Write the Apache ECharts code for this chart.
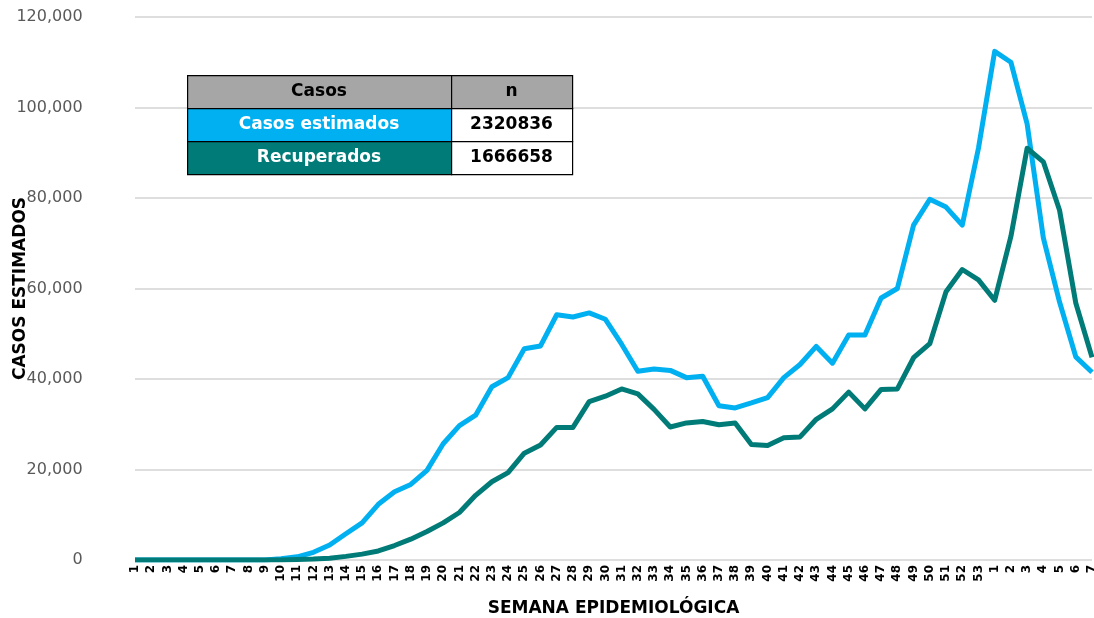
<!DOCTYPE html>
<html>
<head>
<meta charset="utf-8">
<script src="https://cdn.jsdelivr.net/npm/echarts@6/dist/echarts.min.js"></script>
<style>
  html, body { margin: 0; padding: 0; background: #ffffff; }
  #chart { width: 1094px; height: 618px; }
</style>
</head>
<body>
<div id="chart"></div>
<script>
// Epidemiological week labels (2020 weeks 1-53, then 2021 weeks 1-7)
const weeks = ['1','2','3','4','5','6','7','8','9','10','11','12','13','14','15','16','17','18','19','20',
  '21','22','23','24','25','26','27','28','29','30','31','32','33','34','35','36','37','38','39','40',
  '41','42','43','44','45','46','47','48','49','50','51','52','53','1','2','3','4','5','6','7'];

// Casos estimados (light blue)
const casosEstimados = [0,0,0,0,0,0,0,0,0,300,
  700,1700,3300,5800,8200,12300,15100,16700,19800,25700,
  29700,32000,38300,40300,46700,47300,54200,53700,54600,53200,
  47700,41700,42200,41900,40300,40600,34100,33600,34700,35900,
  40300,43200,47200,43500,49700,49700,57900,60000,74000,79700,
  78000,74000,91000,112400,110000,96400,71200,57000,44900,41500];

// Recuperados (teal)
const recuperados = [0,0,0,0,0,0,0,0,0,0,
  100,200,400,800,1300,2000,3200,4600,6300,8200,
  10500,14300,17300,19300,23600,25400,29300,29300,35000,36200,
  37800,36700,33300,29400,30300,30600,29900,30300,25500,25300,
  27000,27200,31100,33400,37100,33400,37700,37800,44700,47800,
  59300,64200,61900,57400,71500,91000,88000,77300,56800,44800];

// Summary table
const tableHeader = ['Casos', 'n'];
const tableRows = [['Casos estimados', '2320836'], ['Recuperados', '1666658']];

const colorBlue = '#00B0F0';
const colorTeal = '#007B77';
const fontFam = '"DejaVu Sans", sans-serif';

// Table geometry (annotation overlay)
const tX = 187, tY = 75, col1W = 264, col2W = 121, rowH = 33;
const rowFills = ['#A6A6A6', colorBlue, colorTeal];
const graphics = [];
const allRows = [tableHeader].concat(tableRows);
allRows.forEach((row, r) => {
  const y = tY + r * rowH;
  graphics.push({
    type: 'rect', left: tX, top: y, z: 10,
    shape: { width: col1W, height: rowH },
    style: { fill: rowFills[r], stroke: '#000', lineWidth: 1.2 }
  });
  graphics.push({
    type: 'rect', left: tX + col1W, top: y, z: 10,
    shape: { width: col2W, height: rowH },
    style: { fill: r === 0 ? '#A6A6A6' : '#FFFFFF', stroke: '#000', lineWidth: 1.2 }
  });
  graphics.push({
    type: 'text', z: 11,
    x: tX + col1W / 2, y: y + rowH / 2,
    style: { text: row[0], fill: r === 0 ? '#000' : '#FFFFFF', font: 'bold 17px ' + fontFam,
      textAlign: 'center', textVerticalAlign: 'middle' }
  });
  graphics.push({
    type: 'text', z: 11,
    x: tX + col1W + col2W / 2, y: y + rowH / 2,
    style: { text: row[1], fill: '#000', font: 'bold 17px ' + fontFam,
      textAlign: 'center', textVerticalAlign: 'middle' }
  });
});

const chart = echarts.init(document.getElementById('chart'), null, { renderer: 'canvas' });
chart.setOption({
  animation: false,
  backgroundColor: '#ffffff',
  grid: { left: 135, right: 2, top: 17, bottom: 58, containLabel: false, outerBoundsMode: 'none' },
  xAxis: {
    type: 'category',
    data: weeks,
    boundaryGap: false,
    name: 'SEMANA EPIDEMIOLÓGICA',
    nameLocation: 'middle',
    nameGap: 40,
    nameTextStyle: { fontFamily: fontFam, fontWeight: 'bold', fontSize: 17, color: '#000' },
    axisLine: { show: false },
    axisTick: { show: false },
    axisLabel: { interval: 0, rotate: 90, margin: 5, fontFamily: fontFam, fontWeight: 'bold', fontSize: 12, color: '#000' }
  },
  yAxis: {
    type: 'value',
    min: 0, max: 120000, interval: 20000,
    name: 'CASOS ESTIMADOS',
    nameLocation: 'middle',
    nameGap: 106,
    nameMoveOverlap: false,
    nameTextStyle: { fontFamily: fontFam, fontWeight: 'bold', fontSize: 17, color: '#000' },
    axisLine: { show: false },
    axisTick: { show: false },
    axisLabel: {
      margin: 27, align: 'right', fontFamily: fontFam, fontSize: 16, color: '#595959',
      formatter: v => v.toLocaleString('en-US') + '\u00a0\u00a0\u00a0\u00a0\u00a0'
    },
    splitLine: { lineStyle: { color: '#DEDEDE', width: 2 } }
  },
  series: [
    {
      name: 'Casos estimados', type: 'line', data: casosEstimados,
      symbol: 'none', lineStyle: { color: colorBlue, width: 5, join: 'round' }
    },
    {
      name: 'Recuperados', type: 'line', data: recuperados,
      symbol: 'none', lineStyle: { color: colorTeal, width: 5, join: 'round' }
    }
  ],
  graphic: graphics
});
</script>
</body>
</html>
